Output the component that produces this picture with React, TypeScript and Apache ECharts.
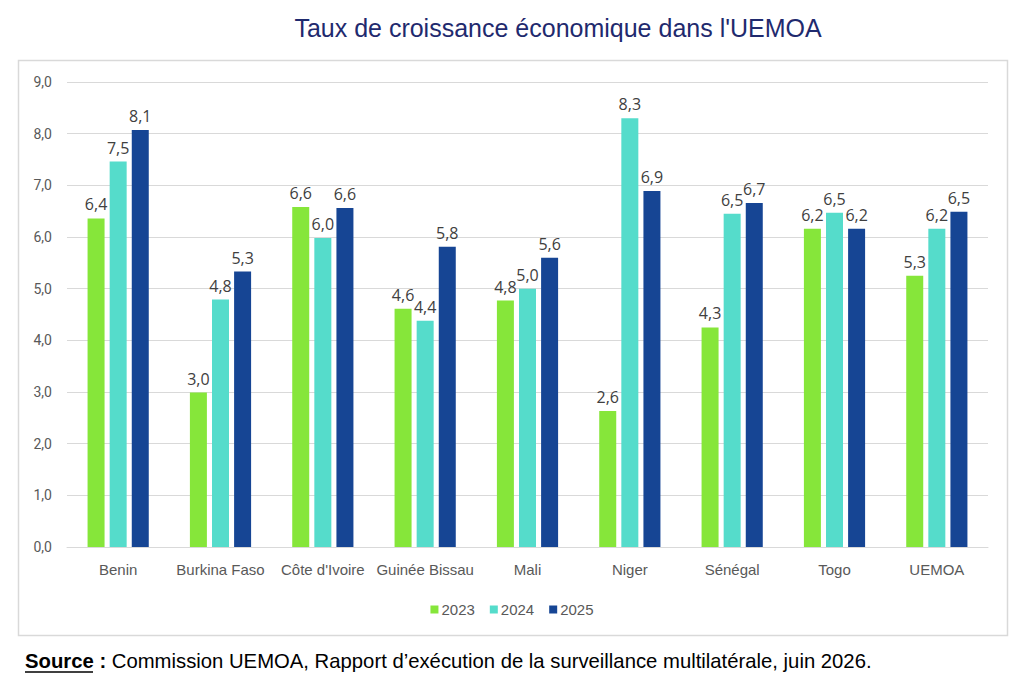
import { useEffect, useRef } from "react";
import * as echarts from "echarts";

const categories = [
  "Benin",
  "Burkina Faso",
  "Côte d'Ivoire",
  "Guinée Bissau",
  "Mali",
  "Niger",
  "Sénégal",
  "Togo",
  "UEMOA",
];

const years = ["2023", "2024", "2025"];

const values2023 = [6.36, 2.99, 6.58, 4.61, 4.77, 2.63, 4.25, 6.16, 5.25];
const values2024 = [7.46, 4.79, 5.98, 4.38, 5.0, 8.3, 6.45, 6.47, 6.16];
const values2025 = [8.07, 5.33, 6.56, 5.81, 5.6, 6.89, 6.66, 6.16, 6.49];

const colors = ["#86e63a", "#55dccb", "#164594"];

const fmt = (v: number) => v.toFixed(1).replace(".", ",");

export default function App() {
  const chartRef = useRef<HTMLDivElement>(null);

  useEffect(() => {
    if (!chartRef.current) return;
    const chart = echarts.init(chartRef.current, null, { renderer: "svg" });

    const seriesData = [values2023, values2024, values2025];

    const option = {
      animation: false,
      backgroundColor: "#ffffff",
      title: {
        text: "Taux de croissance économique dans l'UEMOA",
        left: 553,
        top: 10,
        textAlign: "center",
        textStyle: {
          fontFamily: "Liberation Sans",
          fontSize: 25,
          fontWeight: "normal",
          color: "#1f2a6e",
        },
      },
      grid: {
        left: 67,
        right: 36,
        top: 82,
        bottom: 143,
      },
      legend: {
        data: years,
        left: "center",
        top: 597,
        itemWidth: 8,
        itemHeight: 8,
        itemGap: 15,
        icon: "rect",
        textStyle: {
          fontFamily: "Liberation Sans",
          fontSize: 15,
          color: "#595959",
          padding: [0, 0, 0, -2],
        },
      },
      xAxis: {
        type: "category",
        data: categories,
        axisLine: { lineStyle: { color: "#d9d9d9", width: 1 } },
        axisTick: { show: false },
        axisLabel: {
          interval: 0,
          fontFamily: "Liberation Sans",
          fontSize: 15,
          color: "#595959",
          margin: 15,
        },
      },
      yAxis: {
        type: "value",
        min: 0,
        max: 9,
        interval: 1,
        axisLine: { show: false },
        axisTick: { show: false },
        splitLine: { lineStyle: { color: "#d9d9d9", width: 1 } },
        axisLabel: {
          fontFamily: "Roboto",
          fontSize: 14,
          color: "#595959",
          margin: 15,
          formatter: (v: number) => fmt(v),
        },
      },
      series: years.map((y, i) => ({
        name: y,
        type: "bar",
        data: seriesData[i],
        barWidth: 17,
        barGap: "30%",
        itemStyle: { color: colors[i] },
        label: {
          show: true,
          position: "top",
          distance: 6,
          fontFamily: "Open Sans",
          fontSize: 16,
          color: "#404040",
          formatter: (p: { value: number }) => fmt(p.value),
        },
      })),
      graphic: [
        {
          type: "rect",
          shape: { x: 18.5, y: 60.5, width: 989, height: 575 },
          style: { fill: "none", stroke: "#d9d9d9", lineWidth: 1.5 },
          silent: true,
          z: -1,
        },
        {
          type: "text",
          left: 25,
          top: 651,
          style: {
            text: "{b|Source :} Commission UEMOA, Rapport d’exécution de la surveillance multilatérale, juin 2026.",
            fontFamily: "Liberation Sans",
            fontSize: 20.3,
            fill: "#000000",
            rich: {
              b: {
                fontFamily: "Liberation Sans",
                fontSize: 20.3,
                fontWeight: "bold",
                fill: "#000000",
              },
            },
          },
        },
        {
          type: "line",
          shape: { x1: 25, y1: 672, x2: 93, y2: 672 },
          style: { stroke: "#000000", lineWidth: 1.5 },
        },
      ],
    };

    chart.setOption(option);

    return () => {
      chart.dispose();
    };
  }, []);

  return (
    <div
      ref={chartRef}
      style={{
        position: "absolute",
        left: 0,
        top: 0,
        width: "1024px",
        height: "690px",
      }}
    />
  );
}
